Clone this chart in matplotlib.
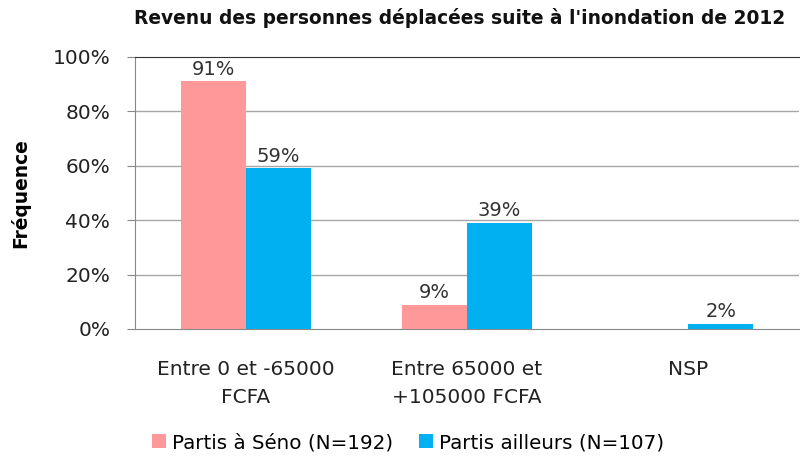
import matplotlib
matplotlib.use("Agg")
import matplotlib.pyplot as plt
import numpy as np

plt.rcParams['font.family'] = ['DejaVu Sans']

categories = ["Entre 0 et -65000\nFCFA", "Entre 65000 et\n+105000 FCFA", "NSP"]
seno = [91, 9, 0]
ailleurs = [59, 39, 2]
series_names = ["Partis à Séno (N=192)", "Partis ailleurs (N=107)"]
yticks = [0, 20, 40, 60, 80, 100]

fig = plt.figure(figsize=(8, 4.66), dpi=100)
ax = fig.add_axes([0.16875, 0.294, 0.83, 0.584])

x = np.arange(len(categories))
w = 0.293
b1 = ax.bar(x - w/2, seno, w, color="#FF9999", label=series_names[0], zorder=3)
b2 = ax.bar(x + w/2, ailleurs, w, color="#00B0F0", label=series_names[1], zorder=3)

for bars, vals in ((b1, seno), (b2, ailleurs)):
    for r, v in zip(bars, vals):
        if v == 0:
            continue
        ax.annotate(f"{v}%", (r.get_x() + r.get_width()/2, v), xytext=(0, 2),
                    textcoords="offset points", ha="center", va="bottom",
                    fontsize=14, color="#333333")

ax.set_xlim(-0.5, 2.5)
ax.set_ylim(0, 100)
ax.set_yticks(yticks)
ax.set_yticklabels([f"{t}%" for t in yticks], fontsize=14.5, color="#222222")
ax.set_xticks(x)
ax.set_xticklabels(categories, fontsize=14.5, color="#222222", linespacing=1.62)
ax.tick_params(axis='x', length=0, pad=22)
ax.tick_params(axis='y', length=5.8, color="#888888", pad=12)

for t in yticks[1:-1]:
    ax.axhline(t, color="#A6A6A6", lw=1, zorder=1)
ax.spines['top'].set_color("#333333")
ax.spines['right'].set_visible(False)
ax.spines['left'].set_color("#888888")
ax.spines['bottom'].set_color("#888888")

ax.set_ylabel("Fréquence", fontsize=13.4, fontweight='bold')
ax.yaxis.set_label_coords(-0.158, 0.5)

fig.text(0.575, 0.962, "Revenu des personnes déplacées suite à l'inondation de 2012",
         ha="center", va="center", fontsize=13.4, fontweight='bold', color="#111111")

fig.legend(handles=[b1, b2], labels=series_names, loc="center", bbox_to_anchor=(0.51, 0.05),
           ncol=2, frameon=False, fontsize=14.3, handlelength=0.7, handleheight=0.7,
           handletextpad=0.3, columnspacing=1.3)

fig.savefig("out.png", dpi=100)
